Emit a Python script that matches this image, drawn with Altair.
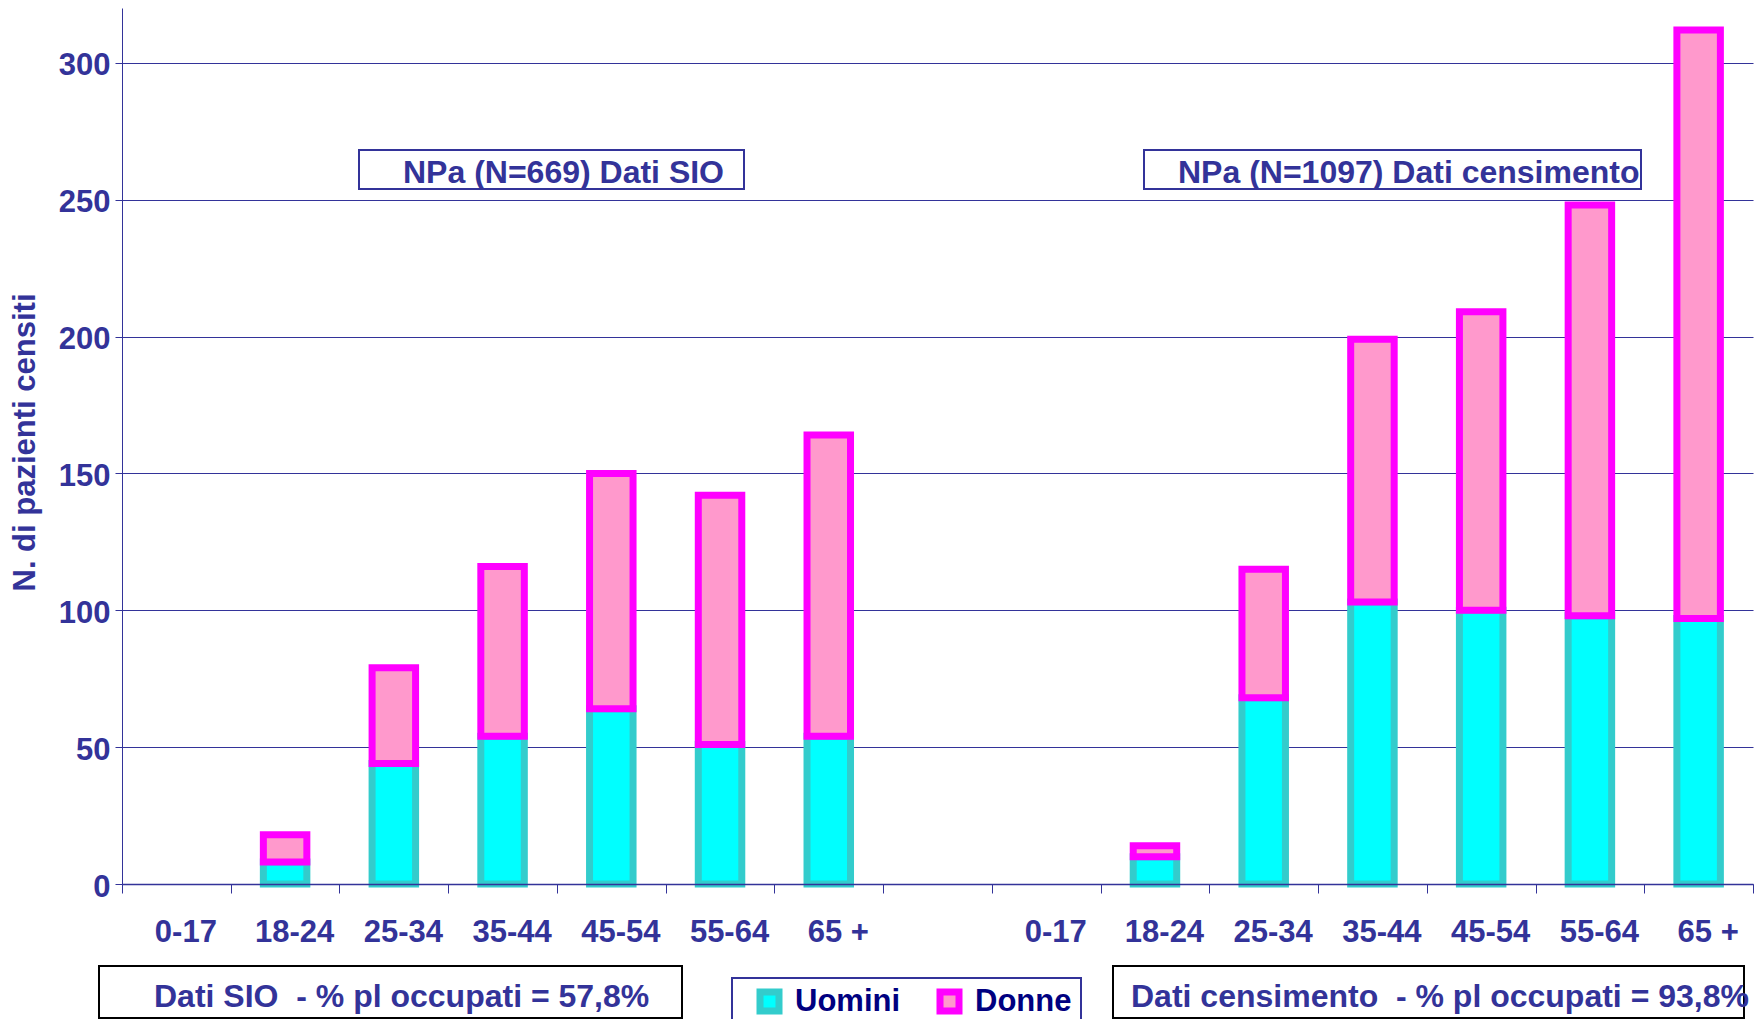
import altair as alt
import pandas as pd

# ---- data ----
age_labels = ["0-17", "18-24", "25-34", "35-44", "45-54", "55-64", "65 +"]
sio_men = [0, 8, 44, 54, 64, 51, 54]
sio_women = [0, 10, 35, 62, 86, 91, 110]
cens_men = [0, 10, 68, 103, 100, 98, 97]
cens_women = [0, 4, 47, 96, 109, 150, 215]
series = ["Uomini", "Donne"]
y_ticks = [0, 50, 100, 150, 200, 250, 300]

title_sio = "NPa (N=669) Dati SIO"
title_cens = "NPa (N=1097) Dati censimento"
note_sio = "Dati SIO \u00a0- % pl occupati = 57,8%"
note_cens = "Dati censimento \u00a0- % pl occupati = 93,8%"
y_title = "N. di pazienti censiti"

# 15 slots: 7 SIO groups, one empty slot, 7 census groups
slot_labels = age_labels + [""] + age_labels
slots = [f"S{i:02d}" for i in range(1, 16)]

rows_men, rows_women = [], []
for offset, men, women in [(0, sio_men, sio_women), (8, cens_men, cens_women)]:
    for i in range(len(age_labels)):
        s = slots[offset + i]
        if men[i] > 0:
            rows_men.append({"slot": s, "sex": "Uomini", "lo": 0, "hi": men[i]})
        if women[i] > 0:
            rows_women.append({"slot": s, "sex": "Donne", "lo": men[i], "hi": men[i] + women[i]})
df = pd.DataFrame(rows_men + rows_women)

TXT = "#333399"
FONT = "Liberation Sans"

label_array = "[" + ",".join("'" + l + "'" for l in slot_labels) + "]"
label_expr = label_array + "[toNumber(substring(datum.value,1))-1]"

legend = alt.Legend(
    title=None, orient="none", legendX=632, legendY=978, direction="horizontal",
    symbolType="square", symbolSize=361, symbolStrokeWidth=7,
    labelFont=FONT, labelFontSize=31, labelFontWeight="bold", labelColor="#000080",
    labelOffset=10, columnPadding=25, padding=0,
)

bars = alt.Chart(df).mark_bar(strokeWidth=7, width=alt.RelativeBandSize(0.4)).encode(
    x=alt.X(
        "slot:N",
        scale=alt.Scale(domain=slots, paddingInner=0, paddingOuter=0),
        axis=alt.Axis(
            title=None, labelExpr=label_expr, labelAngle=0, tickBand="extent",
            tickSize=9, labelPadding=24, labelOffset=9, grid=False, zindex=1,
            domainColor=TXT, tickColor=TXT, labelColor=TXT, labelFont=FONT,
            labelFontSize=31, labelFontWeight="bold", domainWidth=1.5,
        ),
    ),
    y=alt.Y(
        "lo:Q",
        scale=alt.Scale(domain=[0, 320], nice=False),
        axis=alt.Axis(
            values=y_ticks, title=y_title, grid=True, gridColor=TXT, gridWidth=1,
            domainColor=TXT, tickColor=TXT, tickSize=7, labelPadding=5, labelOffset=3,
            labelColor=TXT, labelFont=FONT, labelFontSize=31, labelFontWeight="bold",
            titleFont=FONT, titleFontSize=31, titleFontWeight="bold", titleColor=TXT,
            titleX=-97, titleY=434, titleAngle=270, titleAlign="center",
            titleBaseline="middle",
        ),
    ),
    y2="hi:Q",
    fill=alt.Fill("sex:N", scale=alt.Scale(domain=series, range=["#00FFFF", "#FF99CC"]), legend=legend),
    stroke=alt.Stroke("sex:N", scale=alt.Scale(domain=series, range=["#33CCCC", "#FF00FF"]), legend=legend),
)


def box(x1, x2, y1, y2, color):
    return alt.Chart(pd.DataFrame({"k": [0]})).mark_rect(
        fillOpacity=0, stroke=color, strokeWidth=2
    ).encode(x=alt.value(x1), x2=alt.value(x2), y=alt.value(y1), y2=alt.value(y2))


def label(txt, x, y):
    return alt.Chart(pd.DataFrame({"t": [txt]})).mark_text(
        align="left", baseline="alphabetic", font=FONT, fontSize=32,
        fontWeight="bold", color=TXT,
    ).encode(x=alt.value(x), y=alt.value(y), text="t:N")


chart = alt.layer(
    bars,
    box(237, 622, 142, 181, TXT), label(title_sio, 281, 175),
    box(1022, 1519, 142, 181, TXT), label(title_cens, 1056, 175),
    box(-23, 560, 958, 1010, "#000000"), label(note_sio, 32, 999),
    box(991, 1622, 958, 1010, "#000000"), label(note_cens, 1009, 999),
    box(610, 959, 970, 1030, TXT),
).properties(
    width=1631, height=876,
    autosize=alt.AutoSizeParams(type="none"),
    padding={"left": 114, "top": 0, "right": 1, "bottom": 135},
).configure_view(stroke=None)

chart.save("out.html", embed_options={"renderer": "svg", "actions": False})
